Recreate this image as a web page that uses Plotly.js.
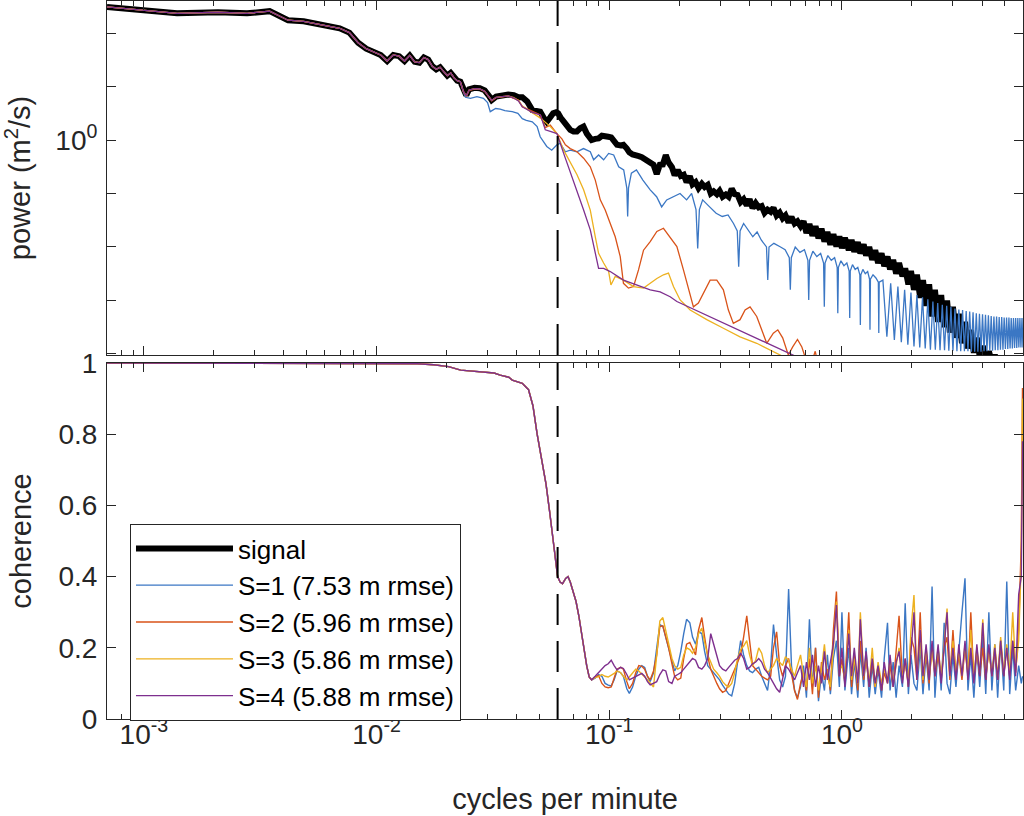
<!DOCTYPE html>
<html>
<head>
<meta charset="utf-8">
<script src="https://cdn.plot.ly/plotly-3.0.1.min.js"></script>
<style>html,body{margin:0;padding:0;background:#fff;}#chart{width:1024px;height:816px;}</style>
</head>
<body>
<div id="chart"></div>
<script>
// ---------------- DATA ----------------
const names = ['signal', 'S=1 (7.53 m rmse)', 'S=2 (5.96 m rmse)', 'S=3 (5.86 m rmse)', 'S=4 (5.88 m rmse)'];
const cutoff = 0.06; // cycles per minute (dashed line)

// shared low-frequency part of all power spectra (cpm, m^2/s)
const lowF = [0.000694, 0.001389, 0.002083, 0.002778, 0.003472, 0.004167, 0.004861, 0.005556, 0.00625, 0.006944,
  0.007639, 0.008333, 0.009028, 0.009722, 0.010417, 0.011111, 0.011806, 0.0125, 0.013194, 0.013889,
  0.014583, 0.015278, 0.015972, 0.016667, 0.017361, 0.018056, 0.01875, 0.019444, 0.020139, 0.020833,
  0.021528, 0.022222, 0.022917];
const lowP = [309, 234, 245, 234, 257, 174, 166, 148, 132, 123,
  102, 66, 51, 45, 39, 30, 39, 37, 30, 38,
  29, 28, 35, 32, 24, 21, 23, 19, 16, 18,
  14.5, 12.9, 12.3];

// signal spectrum, middle part
const sigF = [0.023611, 0.024306, 0.025, 0.026389, 0.027778, 0.029167, 0.030556, 0.03125, 0.032639, 0.034722,
  0.036806, 0.038889, 0.0407, 0.0423, 0.0444, 0.0467, 0.0490, 0.0505, 0.0522, 0.0539,
  0.0557, 0.0574, 0.0591, 0.0603, 0.0618, 0.0636, 0.0657, 0.0680, 0.0702, 0.0726,
  0.0750, 0.0775, 0.0801];
const sigP = [8.5, 6.9, 8.9, 9.5, 9.3, 8.5, 6.5, 5.6, 6.5, 6.9,
  7.1, 6.9, 6.31, 6.31, 5.25, 3.63, 3.55, 3.39, 2.63, 2.19,
  2.63, 3.16, 3.31, 3.16, 2.63, 2.19, 1.78, 1.55, 1.45, 1.45,
  1.66, 1.78, 1.32];

// high-frequency grid (cpm), shared by signal spectrum and coherence curves
const hiF = [0.084, 0.087, 0.090, 0.093, 0.096, 0.099, 0.102, 0.105, 0.108, 0.112,
  0.115, 0.119, 0.122, 0.126, 0.130, 0.134, 0.138, 0.142, 0.146, 0.150,
  0.155, 0.160, 0.165, 0.170, 0.175, 0.180, 0.186, 0.191, 0.197, 0.203,
  0.209, 0.215, 0.222, 0.228, 0.235, 0.242, 0.250, 0.257, 0.265, 0.273,
  0.281, 0.290, 0.298, 0.307, 0.317, 0.326, 0.336, 0.346, 0.356, 0.367,
  0.378, 0.390, 0.401, 0.413, 0.426, 0.439, 0.452, 0.465, 0.479, 0.494,
  0.508, 0.524, 0.540, 0.556, 0.572, 0.590, 0.607, 0.626, 0.644, 0.664,
  0.684, 0.704, 0.725, 0.747, 0.770, 0.793, 0.817, 0.841, 0.866, 0.892,
  0.919, 0.947, 0.975, 1.00, 1.03, 1.07, 1.10, 1.13, 1.17, 1.20,
  1.24, 1.27, 1.31, 1.35, 1.39, 1.43, 1.48, 1.52, 1.57, 1.61,
  1.66, 1.71, 1.76, 1.82, 1.87, 1.93, 1.98, 2.04, 2.10, 2.17,
  2.23, 2.30, 2.37, 2.44, 2.51, 2.59, 2.67, 2.75, 2.83, 2.91,
  3.00, 3.09, 3.18, 3.28, 3.38, 3.48, 3.58, 3.69, 3.80, 3.91,
  4.03, 4.15, 4.28, 4.41, 4.54, 4.67, 4.81, 4.96, 5.11, 5.26,
  5.42, 5.58, 5.75, 5.90, 5.97];
const sigHiP = [1.00, 1.05, 1.07, 1.20, 1.20, 1.15, 1.12, 0.977, 0.813, 0.794,
  0.813, 0.692, 0.589, 0.537, 0.501, 0.501, 0.479, 0.447, 0.407, 0.389,
  0.345, 0.23, 0.345, 0.35, 0.52, 0.38, 0.31, 0.22, 0.275, 0.213,
  0.225, 0.162, 0.21, 0.148, 0.163, 0.126, 0.152, 0.132, 0.145, 0.100,
  0.110, 0.097, 0.112, 0.087, 0.096, 0.087, 0.123, 0.097, 0.094, 0.069,
  0.078, 0.060, 0.078, 0.0535, 0.066, 0.055, 0.058, 0.0435, 0.050, 0.0455,
  0.054, 0.0388, 0.0438, 0.0345, 0.039, 0.0287, 0.0364, 0.0275, 0.0302, 0.0245,
  0.0302, 0.0182, 0.0269, 0.0162, 0.0245, 0.0145, 0.0219, 0.0126, 0.0191, 0.0110,
  0.0174, 0.0102, 0.0158, 0.00955, 0.0148, 0.00871, 0.0135, 0.00813, 0.0123, 0.00759,
  0.0112, 0.00692, 0.0100, 0.00575, 0.00871, 0.00501, 0.00759, 0.00437, 0.00661, 0.00380,
  0.00575, 0.00316, 0.00501, 0.00282, 0.00398, 0.00200, 0.00355, 0.00158, 0.00302, 0.00112,
  0.00240, 0.000794, 0.00200, 0.000501, 0.00158, 0.000398, 0.00126, 0.000316, 0.00100, 0.000251,
  0.000759, 0.000200, 0.000562, 0.000158, 0.000398, 0.000126, 0.000282, 0.000105, 0.000200, 0.0000891,
  0.000141, 0.0000794, 0.000112, 0.0000708, 0.0000955, 0.0000631, 0.0000794, 0.0000501, 0.0000631, 0.0000447,
  0.0000501, 0.0000355, 0.0000398, 0.0000316, 0.0000316];

// S=1 spectrum
const s1F = [0.0236, 0.0241, 0.0253, 0.0270, 0.0288, 0.0300, 0.0308, 0.0325, 0.0340, 0.0356,
  0.0383, 0.0405, 0.0423, 0.0440, 0.0467, 0.0490, 0.0505, 0.0539, 0.0566, 0.0596,
  0.0616, 0.0648, 0.0680, 0.0726, 0.0775, 0.0829, 0.0857, 0.0900, 0.0946, 0.0994,
  0.1045, 0.1098, 0.1154, 0.1190, 0.1200, 0.1210, 0.1245, 0.1309, 0.1395, 0.1500,
  0.1598, 0.1680, 0.1766, 0.1882, 0.2015, 0.2150, 0.2260, 0.2360, 0.2400, 0.2440,
  0.2520, 0.2700, 0.2880, 0.3060, 0.3240, 0.3420, 0.3550, 0.3600, 0.3650, 0.3780,
  0.3960, 0.4140, 0.4320, 0.4500, 0.4740, 0.4800, 0.4860, 0.5100, 0.5400, 0.5700,
  0.5940, 0.6000, 0.6060, 0.6300, 0.6600, 0.6900, 0.7140, 0.7200, 0.7260, 0.7500,
  0.7800, 0.8100, 0.8340, 0.8400, 0.8460, 0.8700, 0.9000, 0.9300, 0.9540, 0.9600,
  0.9660, 0.9900, 1.020, 1.050, 1.074, 1.080, 1.086, 1.110, 1.140, 1.170,
  1.194, 1.200, 1.206, 1.230, 1.260, 1.290, 1.314, 1.320, 1.326, 1.360,
  1.400, 1.434, 1.440, 1.446, 1.500, 1.560, 1.620, 1.680, 1.740, 1.800,
  1.860, 1.920, 1.980, 2.040, 2.100, 2.160, 2.220, 2.280, 2.340, 2.400,
  2.460, 2.520, 2.580, 2.640, 2.700, 2.760, 2.820, 2.880, 2.940, 3.000,
  3.060, 3.120, 3.180, 3.240, 3.300, 3.360, 3.420, 3.480, 3.540, 3.600,
  3.660, 3.720, 3.780, 3.840, 3.900, 3.960, 4.020, 4.080, 4.140, 4.200,
  4.260, 4.320, 4.380, 4.440, 4.500, 4.560, 4.620, 4.680, 4.740, 4.800,
  4.860, 4.920, 4.980, 5.040, 5.100, 5.160, 5.220, 5.280, 5.340, 5.400,
  5.460, 5.520, 5.580, 5.640, 5.700, 5.760, 5.820, 5.880, 5.940, 6.000];
const s1P = [8.0, 6.3, 6.0, 6.46, 6.0, 5.0, 3.39, 3.89, 3.80, 3.55,
  3.39, 3.16, 2.51, 2.34, 2.19, 1.78, 1.15, 0.759, 0.646, 0.813,
  0.871, 0.603, 0.646, 0.603, 0.692, 0.603, 0.427, 0.525, 0.427, 0.562,
  0.525, 0.316, 0.275, 0.126, 0.0372, 0.126, 0.240, 0.275, 0.178, 0.117,
  0.0871, 0.0562, 0.0759, 0.0871, 0.100, 0.0759, 0.100, 0.0501, 0.00933, 0.0501,
  0.0759, 0.0562, 0.0427, 0.0372, 0.0398, 0.0275, 0.0200, 0.00427, 0.0200, 0.0275,
  0.0209, 0.0155, 0.0191, 0.0135, 0.0100, 0.0024, 0.0100, 0.0117, 0.0102, 0.00891,
  0.0063, 0.00158, 0.0063, 0.0100, 0.00794, 0.00891, 0.00562, 0.00102, 0.00562, 0.00832,
  0.00661, 0.00759, 0.00501, 0.000759, 0.00501, 0.00692, 0.00562, 0.00631, 0.00417, 0.000575,
  0.00417, 0.00550, 0.00447, 0.00501, 0.00355, 0.000468, 0.00355, 0.00468, 0.00380, 0.00417,
  0.00302, 0.000347, 0.00302, 0.00380, 0.00316, 0.00347, 0.00251, 0.000282, 0.00251, 0.00302,
  0.00263, 0.00219, 0.000245, 0.00219, 0.00240, 0.000209, 0.00209, 0.000182, 0.00182, 0.000166,
  0.00158, 0.000148, 0.00141, 0.000138, 0.00126, 0.000132, 0.00115, 0.000126, 0.00105, 0.000120,
  0.000955, 0.000120, 0.000891, 0.000117, 0.000832, 0.000117, 0.000794, 0.000115, 0.000759, 0.000115,
  0.000708, 0.000112, 0.000676, 0.000112, 0.000661, 0.000112, 0.000631, 0.000112, 0.000617, 0.000110,
  0.000603, 0.000110, 0.000575, 0.000110, 0.000562, 0.000110, 0.000550, 0.000112, 0.000537, 0.000112,
  0.000525, 0.000115, 0.000513, 0.000115, 0.000501, 0.000117, 0.000501, 0.000117, 0.000490, 0.000120,
  0.000490, 0.000120, 0.000479, 0.000123, 0.000479, 0.000123, 0.000479, 0.000126, 0.000468, 0.000126,
  0.000468, 0.000129, 0.000468, 0.000129, 0.000468, 0.000132, 0.000468, 0.000132, 0.000468, 0.000132];

// S=2 spectrum
const s2F = [0.023611, 0.024306, 0.025, 0.026389, 0.027778, 0.029167, 0.030556, 0.03125, 0.032639, 0.034722,
  0.036806, 0.038889, 0.0407, 0.0423, 0.0467, 0.0506, 0.0531, 0.0558, 0.0596, 0.0626,
  0.0648, 0.0680, 0.0727, 0.0776, 0.0829, 0.0871, 0.0915, 0.0961, 0.1010, 0.1061,
  0.1115, 0.1151, 0.1210, 0.1272, 0.1336, 0.1404, 0.1500, 0.1602, 0.1710, 0.1827,
  0.1953, 0.2084, 0.2189, 0.2300, 0.2416, 0.2540, 0.2714, 0.2899, 0.3094, 0.3251,
  0.3415, 0.3649, 0.3835, 0.4029, 0.4304, 0.4521, 0.4751, 0.5072, 0.5302, 0.5564,
  0.5882, 0.6143, 0.6442, 0.6726, 0.6993, 0.7420, 0.7679, 0.7896, 0.8479];
const s2P = [8.0, 6.6, 8.5, 9.0, 8.9, 8.1, 6.2, 5.4, 6.2, 6.5,
  6.6, 6.0, 5.6, 4.2, 3.39, 2.95, 1.70, 1.90, 1.32, 1.05,
  0.813, 0.692, 0.603, 0.457, 0.316, 0.178, 0.0759, 0.0490, 0.0275, 0.0155,
  0.0066, 0.00209, 0.0017, 0.00182, 0.00372, 0.0087, 0.0126, 0.0195, 0.0224, 0.0155,
  0.0102, 0.00372, 0.00158, 0.000759, 0.000891, 0.00135, 0.0024, 0.0024, 0.00158, 0.000661,
  0.000372, 0.000437, 0.000661, 0.000759, 0.000501, 0.000282, 0.000158, 0.000245, 0.000282, 0.000200,
  0.0000955, 0.000135, 0.000186, 0.000135, 0.0000794, 0.0000708, 0.000112, 0.0000631, 0.0000501];

// S=3 spectrum
const s3F = [0.023611, 0.024306, 0.025, 0.026389, 0.027778, 0.029167, 0.030556, 0.03125, 0.032639, 0.034722,
  0.036806, 0.038889, 0.0407, 0.0423, 0.0467, 0.0506, 0.0558, 0.0596, 0.0637, 0.0680,
  0.0727, 0.0776, 0.0829, 0.0871, 0.0900, 0.0946, 0.0994, 0.1017, 0.1061, 0.1151,
  0.1272, 0.1404, 0.1500, 0.1602, 0.1710, 0.1797, 0.1888, 0.2017, 0.2227, 0.2626,
  0.3094, 0.3649, 0.4304, 0.5072, 0.5693, 0.7288];
const s3P = [8.1, 6.7, 8.6, 9.1, 9.0, 8.2, 6.3, 5.5, 6.3, 6.6,
  6.7, 6.2, 5.5, 4.3, 3.3, 2.57, 1.78, 1.32, 0.646, 0.389,
  0.224, 0.117, 0.0490, 0.0155, 0.00759, 0.00501, 0.00347, 0.00195, 0.00282, 0.0024,
  0.00182, 0.0017, 0.00209, 0.00257, 0.00302, 0.00324, 0.00182, 0.00102, 0.000661, 0.000437,
  0.000302, 0.000209, 0.000158, 0.000110, 0.0000832, 0.0000501];

// S=4 spectrum
const s4F = [0.023611, 0.024306, 0.025, 0.026389, 0.027778, 0.029167, 0.030556, 0.03125, 0.032639, 0.034722,
  0.036806, 0.038889, 0.0407, 0.0423, 0.0467, 0.0506, 0.0531, 0.0558, 0.0596, 0.0637,
  0.0680, 0.0727, 0.0776, 0.0829, 0.0871, 0.0900, 0.0946, 0.1010, 0.1151, 0.1358,
  0.1500, 0.1655, 0.1827, 0.1953, 0.8479];
const s4P = [8.1, 6.7, 8.6, 9.1, 9.0, 8.2, 6.3, 5.5, 6.3, 6.6,
  6.7, 6.1, 5.4, 4.2, 3.3, 2.95, 1.55, 1.45, 1.32, 0.562,
  0.257, 0.117, 0.0490, 0.0209, 0.00759, 0.00398, 0.00398, 0.00347, 0.0024, 0.00182,
  0.00158, 0.00145, 0.00117, 0.000955, 0.0000501];

// coherence: shared low-frequency part
const cohLowF = [0.000694, 0.00139, 0.00278, 0.00556, 0.0111, 0.0150, 0.0176, 0.0204, 0.0230, 0.0260,
  0.0290, 0.0320, 0.0340, 0.0370, 0.0383, 0.0423, 0.0450, 0.0470, 0.0490, 0.0515,
  0.0535, 0.0555, 0.0570, 0.0585, 0.0600, 0.0615, 0.0630, 0.0650, 0.0665, 0.0680,
  0.0700, 0.0720, 0.0740, 0.0760, 0.0780, 0.0800, 0.0820];
const cohLow = [1.000, 1.000, 1.000, 0.999, 0.999, 0.998, 0.995, 0.990, 0.980, 0.977,
  0.976, 0.972, 0.966, 0.960, 0.952, 0.943, 0.925, 0.88, 0.80, 0.72,
  0.66, 0.58, 0.52, 0.45, 0.40, 0.385, 0.38, 0.395, 0.40, 0.385,
  0.36, 0.33, 0.29, 0.24, 0.19, 0.15, 0.118];

// coherence on hiF
const cohS1 = [0.110, 0.115, 0.125, 0.120, 0.100, 0.095, 0.093, 0.110, 0.135, 0.130,
  0.120, 0.085, 0.072, 0.090, 0.120, 0.140, 0.150, 0.145, 0.120, 0.105,
  0.130, 0.200, 0.265, 0.260, 0.230, 0.200, 0.160, 0.135, 0.150, 0.190,
  0.240, 0.280, 0.270, 0.230, 0.210, 0.245, 0.240, 0.190, 0.150, 0.140,
  0.130, 0.120, 0.110, 0.095, 0.080, 0.070, 0.065, 0.100, 0.160, 0.220,
  0.180, 0.150, 0.135, 0.130, 0.140, 0.145, 0.120, 0.100, 0.080, 0.150,
  0.265, 0.180, 0.110, 0.090, 0.120, 0.365, 0.150, 0.080, 0.060, 0.090,
  0.150, 0.060, 0.280, 0.090, 0.200, 0.050, 0.130, 0.080, 0.180, 0.070,
  0.170, 0.220, 0.090, 0.300, 0.080, 0.200, 0.070, 0.160, 0.060, 0.190,
  0.090, 0.200, 0.060, 0.150, 0.070, 0.140, 0.060, 0.170, 0.270, 0.080,
  0.160, 0.060, 0.150, 0.090, 0.325, 0.070, 0.180, 0.100, 0.080, 0.200,
  0.070, 0.180, 0.080, 0.372, 0.060, 0.200, 0.080, 0.270, 0.100, 0.070,
  0.180, 0.090, 0.200, 0.300, 0.395, 0.080, 0.180, 0.060, 0.200, 0.090,
  0.230, 0.070, 0.300, 0.080, 0.210, 0.060, 0.220, 0.080, 0.386, 0.070,
  0.200, 0.080, 0.150, 0.100, 0.120];
const cohS2 = [0.110, 0.118, 0.122, 0.100, 0.090, 0.088, 0.090, 0.115, 0.140, 0.145,
  0.140, 0.105, 0.085, 0.100, 0.130, 0.150, 0.148, 0.140, 0.120, 0.110,
  0.135, 0.180, 0.260, 0.262, 0.230, 0.200, 0.155, 0.120, 0.110, 0.115,
  0.170, 0.210, 0.215, 0.200, 0.180, 0.250, 0.285, 0.230, 0.175, 0.140,
  0.120, 0.100, 0.085, 0.075, 0.080, 0.100, 0.120, 0.140, 0.160, 0.180,
  0.230, 0.290, 0.220, 0.150, 0.140, 0.130, 0.120, 0.115, 0.110, 0.120,
  0.200, 0.245, 0.150, 0.120, 0.150, 0.170, 0.130, 0.080, 0.055, 0.100,
  0.130, 0.080, 0.170, 0.070, 0.200, 0.060, 0.160, 0.110, 0.140, 0.080,
  0.250, 0.358, 0.120, 0.170, 0.100, 0.300, 0.090, 0.180, 0.080, 0.220,
  0.110, 0.170, 0.090, 0.160, 0.090, 0.150, 0.080, 0.130, 0.100, 0.150,
  0.090, 0.200, 0.290, 0.110, 0.170, 0.090, 0.230, 0.200, 0.110, 0.300,
  0.100, 0.190, 0.100, 0.210, 0.120, 0.180, 0.110, 0.200, 0.230, 0.110,
  0.250, 0.120, 0.180, 0.110, 0.200, 0.120, 0.300, 0.110, 0.190, 0.120,
  0.200, 0.110, 0.200, 0.120, 0.190, 0.110, 0.210, 0.120, 0.200, 0.120,
  0.220, 0.130, 0.250, 0.500, 0.930];
const cohS3 = [0.110, 0.116, 0.119, 0.125, 0.120, 0.118, 0.122, 0.128, 0.135, 0.130,
  0.120, 0.110, 0.118, 0.130, 0.140, 0.135, 0.125, 0.118, 0.110, 0.100,
  0.090, 0.180, 0.275, 0.285, 0.250, 0.215, 0.170, 0.150, 0.140, 0.145,
  0.180, 0.200, 0.195, 0.185, 0.200, 0.240, 0.255, 0.215, 0.180, 0.160,
  0.140, 0.130, 0.120, 0.105, 0.095, 0.090, 0.100, 0.130, 0.170, 0.195,
  0.205, 0.220, 0.180, 0.150, 0.165, 0.200, 0.185, 0.150, 0.130, 0.140,
  0.150, 0.170, 0.160, 0.150, 0.175, 0.165, 0.140, 0.120, 0.150, 0.180,
  0.120, 0.090, 0.200, 0.100, 0.150, 0.080, 0.140, 0.210, 0.120, 0.090,
  0.200, 0.330, 0.140, 0.150, 0.110, 0.250, 0.110, 0.170, 0.100, 0.300,
  0.120, 0.180, 0.100, 0.200, 0.090, 0.160, 0.100, 0.140, 0.110, 0.170,
  0.100, 0.150, 0.200, 0.110, 0.160, 0.100, 0.250, 0.348, 0.120, 0.220,
  0.110, 0.200, 0.120, 0.190, 0.130, 0.200, 0.120, 0.210, 0.310, 0.120,
  0.220, 0.130, 0.190, 0.120, 0.210, 0.130, 0.250, 0.120, 0.200, 0.130,
  0.280, 0.120, 0.190, 0.130, 0.210, 0.120, 0.230, 0.130, 0.210, 0.130,
  0.300, 0.140, 0.220, 0.450, 0.900];
const cohS4 = [0.110, 0.120, 0.130, 0.140, 0.150, 0.155, 0.165, 0.150, 0.138, 0.145,
  0.142, 0.125, 0.110, 0.115, 0.120, 0.125, 0.128, 0.120, 0.105, 0.096,
  0.100, 0.105, 0.125, 0.138, 0.135, 0.105, 0.100, 0.120, 0.125, 0.130,
  0.140, 0.150, 0.160, 0.170, 0.165, 0.145, 0.140, 0.150, 0.170, 0.240,
  0.210, 0.175, 0.150, 0.140, 0.135, 0.145, 0.155, 0.165, 0.170, 0.185,
  0.170, 0.140, 0.145, 0.155, 0.160, 0.170, 0.160, 0.140, 0.130, 0.115,
  0.100, 0.085, 0.075, 0.110, 0.150, 0.140, 0.125, 0.110, 0.130, 0.150,
  0.090, 0.160, 0.110, 0.180, 0.090, 0.150, 0.100, 0.190, 0.110, 0.160,
  0.210, 0.320, 0.120, 0.200, 0.090, 0.240, 0.120, 0.200, 0.100, 0.280,
  0.120, 0.190, 0.090, 0.170, 0.100, 0.150, 0.080, 0.160, 0.100, 0.180,
  0.090, 0.160, 0.190, 0.100, 0.170, 0.090, 0.200, 0.300, 0.110, 0.250,
  0.120, 0.210, 0.110, 0.220, 0.120, 0.210, 0.100, 0.190, 0.300, 0.120,
  0.200, 0.110, 0.210, 0.120, 0.220, 0.110, 0.200, 0.100, 0.210, 0.120,
  0.270, 0.110, 0.210, 0.120, 0.200, 0.110, 0.220, 0.120, 0.200, 0.110,
  0.220, 0.120, 0.350, 0.400, 0.780];

// ticks
const xMajor = [0.001, 0.01, 0.1, 1];
const xMajorText = ['10<sup>-3</sup>', '10<sup>-2</sup>', '10<sup>-1</sup>', '10<sup>0</sup>'];
const xMinor = [0.0007, 0.0008, 0.0009, 0.002, 0.003, 0.004, 0.005, 0.006, 0.007, 0.008, 0.009,
  0.02, 0.03, 0.04, 0.05, 0.06, 0.07, 0.08, 0.09, 0.2, 0.3, 0.4, 0.5, 0.6, 0.7, 0.8, 0.9, 2, 3, 4, 5, 6];
const yTopMajor = [1];
const yTopMajorText = ['10<sup>0</sup>'];
const yTopMinor = [1e-4, 1e-3, 1e-2, 1e-1, 10, 100];
const yBotVals = [0, 0.2, 0.4, 0.6, 0.8, 1];
const yBotText = ['0', '0.2', '0.4', '0.6', '0.8', '1'];

// ---------------- STYLE ----------------
const colors = ['#000000', '#3b77c4', '#d95319', '#edb120', '#7e2f8e'];
const widths = [6, 1.3, 1.3, 1.3, 1.3];
const FONT = '"Liberation Sans", Arial, Helvetica, sans-serif';
const AX = '#262626';

const topX = [lowF.concat(sigF, hiF), lowF.concat(s1F), lowF.concat(s2F), lowF.concat(s3F), lowF.concat(s4F)];
const topY = [lowP.concat(sigP, sigHiP), lowP.concat(s1P), lowP.concat(s2P), lowP.concat(s3P), lowP.concat(s4P)];
const cohSeries = [cohS1, cohS2, cohS3, cohS4];

const traces = [];
for (let i = 0; i < 5; i++) {
  traces.push({type: 'scatter', mode: 'lines', x: topX[i], y: topY[i], name: names[i],
    xaxis: 'x', yaxis: 'y', line: {color: colors[i], width: widths[i]}, hoverinfo: 'skip'});
}
for (let i = 0; i < 4; i++) {
  traces.push({type: 'scatter', mode: 'lines', x: cohLowF.concat(hiF), y: cohLow.concat(cohSeries[i]),
    name: names[i + 1], showlegend: false, xaxis: 'x2', yaxis: 'y2',
    line: {color: colors[i + 1], width: 1.4}, hoverinfo: 'skip'});
}

const xRange = [Math.log10(1 / 1440), Math.log10(6)];
function xAxis(extra) {
  return Object.assign({
    type: 'log', range: xRange, domain: [0, 1], showgrid: false, zeroline: false,
    showline: true, linecolor: AX, linewidth: 1, mirror: 'ticks',
    ticks: 'inside', ticklen: 9, tickwidth: 1, tickcolor: AX,
    tickmode: 'array', tickvals: xMajor, ticktext: xMajorText,
    minor: {tickmode: 'array', tickvals: xMinor, ticks: 'inside', ticklen: 5, tickwidth: 1, tickcolor: AX, showgrid: false},
    tickfont: {family: FONT, size: 28, color: AX}
  }, extra);
}
function yAxis(extra) {
  return Object.assign({
    showgrid: false, zeroline: false, showline: true, linecolor: AX, linewidth: 1, mirror: 'ticks',
    ticks: 'inside', ticklen: 9, tickwidth: 1, tickcolor: AX, tickmode: 'array',
    tickfont: {family: FONT, size: 28, color: AX}, ticklabelstandoff: 3
  }, extra);
}

const layout = {
  width: 1024, height: 816,
  margin: {l: 107, r: 1, t: 1, b: 97, pad: 0},
  paper_bgcolor: '#ffffff', plot_bgcolor: '#ffffff',
  font: {family: FONT, size: 28, color: AX},
  showlegend: true,
  legend: {x: 0.0251, y: 0.2716, xanchor: 'left', yanchor: 'top', bgcolor: '#ffffff',
    bordercolor: AX, borderwidth: 1, font: {family: FONT, size: 26, color: '#000000'},
    itemwidth: 97, tracegroupgap: 0},
  xaxis: xAxis({anchor: 'y', showticklabels: false}),
  xaxis2: xAxis({anchor: 'y2', ticklabelstandoff: -10,
    title: {text: 'cycles per minute', font: {family: FONT, size: 29, color: AX}, standoff: 40}}),
  yaxis: yAxis({type: 'log', range: [-4.02, 2.6], domain: [0.507, 1], anchor: 'x',
    tickvals: yTopMajor, ticktext: yTopMajorText,
    minor: {tickmode: 'array', tickvals: yTopMinor, ticks: 'inside', ticklen: 9, tickwidth: 1, tickcolor: AX, showgrid: false},
    title: {text: 'power (m<sup>2</sup>/s)', font: {family: FONT, size: 29, color: AX}, standoff: 18}}),
  yaxis2: yAxis({range: [0, 1], domain: [0, 0.4958], anchor: 'x2',
    tickvals: yBotVals, ticktext: yBotText,
    title: {text: 'coherence', font: {family: FONT, size: 29, color: AX}, standoff: 18}}),
  shapes: [
    {type: 'line', xref: 'x', yref: 'y domain', x0: cutoff, x1: cutoff, y0: 0, y1: 1,
      line: {color: '#000000', width: 2, dash: '31px,16px'}},
    {type: 'line', xref: 'x2', yref: 'y2 domain', x0: cutoff, x1: cutoff, y0: 0, y1: 1,
      line: {color: '#000000', width: 2, dash: '31px,16px'}}
  ]
};

Plotly.newPlot('chart', traces, layout, {displayModeBar: false, staticPlot: true});
</script>
</body>
</html>
